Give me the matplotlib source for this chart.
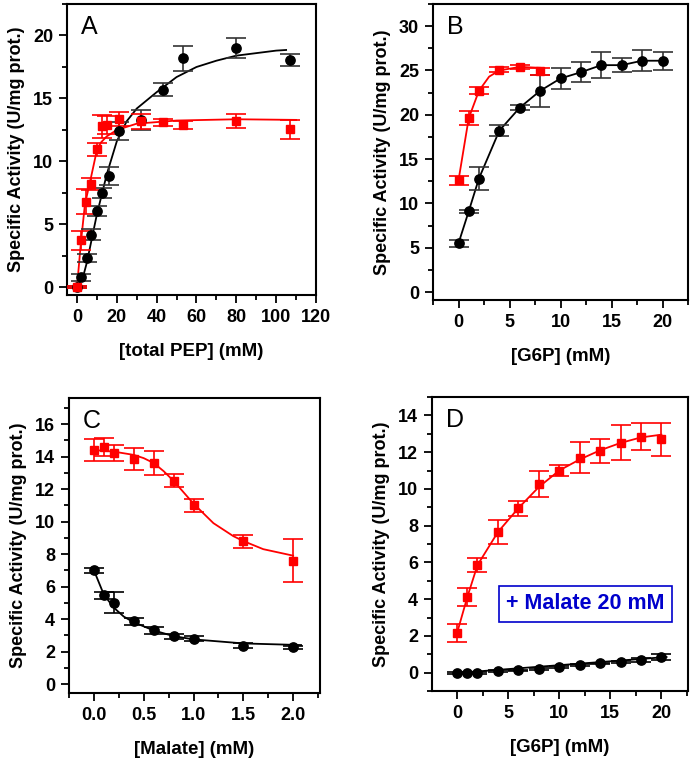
import matplotlib.pyplot as plt
from matplotlib.ticker import MultipleLocator

plt.rcParams['font.family'] = ['Liberation Sans', 'DejaVu Sans']

# Panel A: [total PEP]
a_blk_x = [0, 2, 5, 7, 10, 12.5, 16, 21, 32, 43, 53, 80, 107]
a_blk_y = [0.05, 0.8, 2.35, 4.2, 6.1, 7.5, 8.85, 12.4, 13.3, 15.7, 18.2, 19.0, 18.05]
a_blk_e = [0.1, 0.3, 0.3, 0.4, 0.4, 0.4, 0.75, 0.7, 0.8, 0.5, 1.0, 0.8, 0.45]
a_red_x = [0, 2, 4.5, 7, 10, 12.5, 15, 21, 32, 43, 53, 80, 107]
a_red_y = [0.05, 3.75, 6.8, 8.2, 10.95, 12.8, 12.9, 13.4, 13.2, 13.1, 12.9, 13.2, 12.55]
a_red_e = [0.1, 0.75, 1.0, 0.45, 0.5, 0.9, 0.7, 0.55, 0.6, 0.3, 0.35, 0.55, 0.75]
# fitted curves
a_blk_fit_x = [0, 3, 5, 10, 15, 20, 25, 30, 40, 50, 60, 70, 80, 90, 100, 105]
a_blk_fit_y = [0.0, 0.8, 2.0, 5.8, 9.0, 11.6, 13.2, 14.2, 15.5, 16.7, 17.5, 18.0, 18.4, 18.6, 18.8, 18.85]
a_red_fit_x = [0, 2, 4, 7, 10, 12, 15, 20, 30, 50, 80, 110]
a_red_fit_y = [0.0, 3.6, 6.6, 8.7, 10.9, 11.5, 12.0, 12.5, 13.0, 13.25, 13.35, 13.3]

# Panel B: [G6P]
b_red_x = [0, 1, 2, 4, 6, 8]
b_red_y = [12.6, 19.6, 22.7, 25.1, 25.4, 24.9]
b_red_e = [0.5, 0.8, 0.4, 0.3, 0.2, 0.4]
b_blk_x = [0, 1, 2, 4, 6, 8, 10, 12, 14, 16, 18, 20]
b_blk_y = [5.5, 9.1, 12.8, 18.2, 20.8, 22.7, 24.1, 24.8, 25.6, 25.6, 26.1, 26.1]
b_blk_e = [0.4, 0.2, 1.3, 0.6, 0.3, 1.8, 1.2, 1.1, 1.5, 0.8, 1.2, 1.0]
b_red_fit_x = [0, 1, 2, 3, 4, 6, 8]
b_red_fit_y = [12.6, 19.6, 22.7, 24.3, 25.0, 25.4, 25.3]

# Panel C: [Malate]
c_x = [0, 0.1, 0.2, 0.4, 0.6, 0.8, 1.0, 1.5, 2.0]
c_red_y = [14.4, 14.6, 14.2, 13.85, 13.6, 12.5, 11.0, 8.8, 7.6]
c_red_e = [0.65, 0.55, 0.5, 0.65, 0.75, 0.4, 0.4, 0.4, 1.35]
c_blk_y = [7.0, 5.45, 5.0, 3.85, 3.3, 2.95, 2.8, 2.35, 2.25]
c_blk_e = [0.15, 0.2, 0.65, 0.2, 0.2, 0.15, 0.15, 0.15, 0.1]
c_red_fit_x = [0, 0.2, 0.4, 0.5, 0.6, 0.7, 0.8, 0.9, 1.0, 1.2, 1.4, 1.5, 1.7, 2.0]
c_red_fit_y = [14.4, 14.3, 14.1, 13.9, 13.6, 13.1, 12.5, 11.8, 11.1, 9.9, 9.1, 8.8, 8.3, 7.9]
c_blk_fit_x = [0, 0.1, 0.2, 0.3, 0.4, 0.6, 0.8, 1.0, 1.5, 2.08]
c_blk_fit_y = [7.0, 5.5, 4.7, 4.15, 3.8, 3.3, 2.95, 2.75, 2.5, 2.4]

# Panel D: [G6P] + malate 20 mM
d_x = [0, 1, 2, 4, 6, 8, 10, 12, 14, 16, 18, 20]
d_red_y = [2.15, 4.1, 5.85, 7.65, 8.95, 10.25, 11.0, 11.7, 12.05, 12.5, 12.85, 12.7]
d_red_e = [0.5, 0.5, 0.4, 0.65, 0.4, 0.7, 0.3, 0.85, 0.65, 0.95, 0.75, 0.9]
d_blk_y = [0.0, 0.0, 0.0, 0.07, 0.12, 0.2, 0.3, 0.4, 0.5, 0.58, 0.7, 0.85]
d_blk_e = [0.05, 0.05, 0.05, 0.05, 0.05, 0.05, 0.05, 0.05, 0.05, 0.07, 0.12, 0.15]
d_red_fit_x = [0, 1, 2, 4, 6, 8, 10, 12, 14, 16, 18, 20]
d_red_fit_y = [2.15, 4.1, 5.85, 7.65, 8.95, 10.1, 11.0, 11.6, 12.1, 12.5, 12.8, 12.95]
d_blk_fit_x = [0, 20.5]
d_blk_fit_y = [-0.02, 0.85]

RED = '#ff0000'
BLK = '#000000'
ylab = 'Specific Activity (U/mg prot.)'

fig = plt.figure(figsize=(6.93, 7.6), dpi=100)
axA = fig.add_axes([67/693, 1-295/760, 249/693, 291/760])
axB = fig.add_axes([433/693, 1-300/760, 255/693, 296/760])
axC = fig.add_axes([69/693, 1-693/760, 251/693, 295/760])
axD = fig.add_axes([432/693, 1-691/760, 256/693, 294/760])


def pts(ax, x, y, e, color, marker, ms, ecolor=None):
  ax.errorbar(x, y, yerr=e, fmt=marker, color=color, ms=ms, mec=color,
              ecolor=ecolor or color, elinewidth=1.2, capsize=7, capthick=1.2, zorder=3)


def style(ax, xl, yl, xmaj, xmin, ymaj, ymin, xlabel, letter):
  ax.set_xlim(*xl)
  ax.set_ylim(*yl)
  ax.xaxis.set_major_locator(MultipleLocator(xmaj))
  ax.xaxis.set_minor_locator(MultipleLocator(xmin))
  ax.yaxis.set_major_locator(MultipleLocator(ymaj))
  ax.yaxis.set_minor_locator(MultipleLocator(ymin))
  ax.tick_params(which='both', direction='out', top=False, right=False, width=1.3)
  ax.tick_params(which='major', length=6, labelsize=13, pad=4)
  ax.tick_params(which='minor', length=3.5)
  for t in ax.get_xticklabels() + ax.get_yticklabels():
    t.set_fontweight('bold')
  for s in ax.spines.values():
    s.set_linewidth(1.5)
  ax.set_xlabel(xlabel, fontsize=13.5, fontweight='bold', labelpad=12)
  ax.set_ylabel(ylab, fontsize=13, fontweight='bold', labelpad=6)
  ax.text(0.055, 0.962, letter, transform=ax.transAxes, fontsize=18, va='top', ha='left')


# A
axA.plot(a_blk_fit_x, a_blk_fit_y, color=BLK, lw=1.3)
axA.plot(a_red_fit_x, a_red_fit_y, color=RED, lw=1.3)
pts(axA, a_blk_x, a_blk_y, a_blk_e, BLK, 'o', 6.7, ecolor='#333333')
pts(axA, a_red_x, a_red_y, a_red_e, RED, 's', 6.3)
style(axA, (-5, 120), (-0.6, 22.5), 20, 10, 5, 2.5, '[total PEP] (mM)', 'A')

# B
axB.plot(b_blk_x, b_blk_y, color=BLK, lw=1.3)
axB.plot(b_red_fit_x, b_red_fit_y, color=RED, lw=1.3)
pts(axB, b_blk_x, b_blk_y, b_blk_e, BLK, 'o', 6.7, ecolor='#333333')
pts(axB, b_red_x, b_red_y, b_red_e, RED, 's', 6.3)
style(axB, (-2.5, 22.5), (-0.9, 32.5), 5, 2.5, 5, 2.5, '[G6P] (mM)', 'B')

# C
axC.plot(c_blk_fit_x, c_blk_fit_y, color=BLK, lw=1.3)
axC.plot(c_red_fit_x, c_red_fit_y, color=RED, lw=1.3)
pts(axC, c_x, c_blk_y, c_blk_e, BLK, 'o', 6.7)
pts(axC, c_x, c_red_y, c_red_e, RED, 's', 6.3)
style(axC, (-0.25, 2.27), (-0.55, 17.6), 0.5, 0.25, 2, 1, '[Malate] (mM)', 'C')
axC.xaxis.set_major_formatter(lambda v, p: f'{v:.1f}')

# D
axD.plot(d_blk_fit_x, d_blk_fit_y, color=BLK, lw=1.3)
axD.plot(d_red_fit_x, d_red_fit_y, color=RED, lw=1.3)
pts(axD, d_x, d_blk_y, d_blk_e, BLK, 'o', 6.7)
pts(axD, d_x, d_red_y, d_red_e, RED, 's', 6.3)
style(axD, (-2.45, 22.6), (-1.0, 15.0), 5, 2.5, 2, 1, '[G6P] (mM)', 'D')
axD.text(12.57, 3.75, '+ Malate 20 mM', fontsize=15.5, fontweight='bold', color='#0000cc',
         ha='center', va='center',
         bbox=dict(boxstyle='square,pad=0.35', fc='white', ec='#0000cc', lw=1.2))

fig.savefig('out.png', dpi=100)
